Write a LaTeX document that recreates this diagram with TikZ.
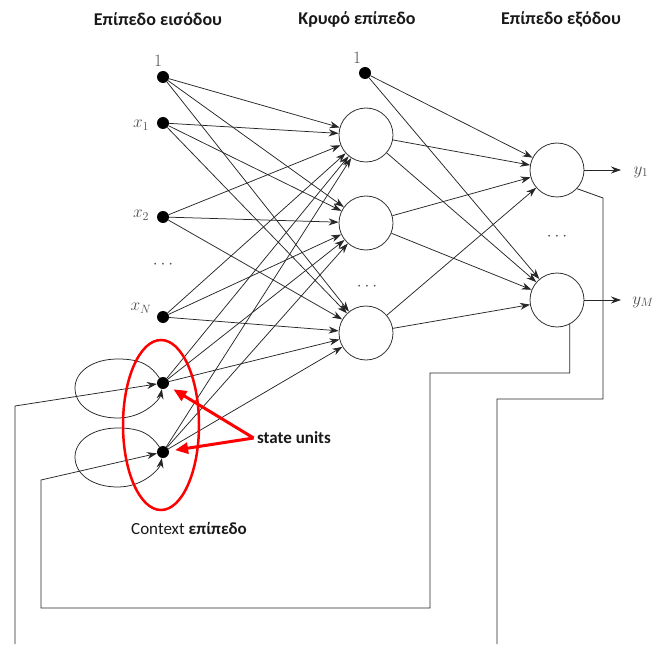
\documentclass[tikz,border=0pt]{standalone}
\usepackage{fontspec}
\setmainfont{Carlito}
\usetikzlibrary{arrows.meta}

\begin{document}
\begin{tikzpicture}[
  x=1pt, y=-1pt,
  unit/.style={circle, draw=black!80, fill=white, line width=0.8pt, minimum size=54pt, inner sep=0pt},
  dotnode/.style={circle, fill=black, minimum size=12pt, inner sep=0pt},
  conn/.style={draw=black!85, line width=0.75pt, -{Stealth[length=10pt,width=7pt]}},
  wire/.style={draw=black!85, line width=0.8pt},
  title/.style={font=\fontsize{18}{21}\selectfont\bfseries, text=black!90},
  lab/.style={font=\fontsize{17}{19}\selectfont, text=black!70},
  redmark/.style={draw=red, line width=2.5pt},
  redarrow/.style={draw=red, line width=3pt, -{Triangle[length=13pt,width=11pt]}, shorten >=6pt}
]
\useasboundingbox (0,0) rectangle (652,644);

% layer titles
\node[title] (t1) at (158,19) {Επίπεδο εισόδου};
\node[title] (t2) at (357,19) {Κρυφό επίπεδο};
\node[title] (t3) at (561,19) {Επίπεδο εξόδου};

% input layer
\node[dotnode] (b1) at (163,77) {};
\node[dotnode] (x1) at (163,123) {};
\node[dotnode] (x2) at (163,217) {};
\node[dotnode] (xN) at (163,317) {};
\node[dotnode] (c1) at (163,383) {};
\node[dotnode] (c2) at (163,452) {};
\node[lab] (lb1) at (158,61) {$1$};
\node[lab] (lx1) at (141,125) {$x_1$};
\node[lab] (lx2) at (141,215) {$x_2$};
\node[lab] (lxN) at (141,308) {$x_N$};
\node[lab] (dIn) at (163,265) {$\cdots$};

% hidden layer
\node[dotnode] (b2) at (365,73) {};
\node[lab] (lb2) at (357,58) {$1$};
\node[unit] (h1) at (366,135) {};
\node[unit] (h2) at (366,223) {};
\node[unit] (h3) at (366,333) {};
\node[lab] (dHid) at (367,287) {$\cdots$};

% output layer
\node[unit] (o1) at (557,170) {};
\node[unit] (o2) at (557,300) {};
\node[lab] (dOut) at (557,237) {$\cdots$};
\coordinate (y1e) at (621,170);
\coordinate (yMe) at (621,300);
\node[lab] (ly1) at (641,172) {$y_1$};
\node[lab] (lyM) at (643,302) {$y_M$};

% input -> hidden
\foreach \s in {b1,x1,x2,xN,c1,c2}
  \foreach \t in {h1,h2,h3}
    \draw[conn] (\s) -- (\t);

% hidden -> output
\foreach \s in {b2,h1,h2,h3}
  \foreach \t in {o1,o2}
    \draw[conn] (\s) -- (\t);

\draw[conn] (o1) -- (y1e);
\draw[conn] (o2) -- (yMe);

% feedback wires into the context units
\coordinate (p1) at (603,198);
\coordinate (p2) at (603,399);
\coordinate (p3) at (497,399);
\coordinate (p4) at (497,644);
\draw[wire] (o1.-43) -- (p1) -- (p2) -- (p3) -- (p4);

\coordinate (q1) at (15,644);
\coordinate (q2) at (15,406);
\draw[conn] (q1) -- (q2) -- (c1);

\coordinate (r1) at (430,373);
\coordinate (r2) at (430,608);
\coordinate (r3) at (41,608);
\coordinate (r4) at (41,480);
\draw[conn] (o2.-62) |- (r1) -- (r2) -- (r3) -- (r4) -- (c2);

% self loops of the context units
\foreach \c/\dy in {c1/0, c2/69} {
  \coordinate (top\c) at (118,359+\dy);
  \coordinate (lft\c) at (75,388+\dy);
  \coordinate (bot\c) at (118,418+\dy);
  \draw[conn] (\c) .. controls +(-12,-17) and +(24,0) .. (top\c)
                   .. controls +(-26,0) and +(0,-16) .. (lft\c)
                   .. controls +(0,17) and +(-26,0) .. (bot\c)
                   .. controls +(26,0) and +(-3,16) .. (\c);
}

% context layer marker
\draw[redmark] (161,425) ellipse [x radius=38pt, y radius=85pt];
\node[font=\fontsize{17}{20}\selectfont\bfseries, text=black!90] (su) at (294,438) {state units};
\draw[redarrow] (su.west) -- (c1);
\draw[redarrow] (su.west) -- (c2);
\node[font=\fontsize{17}{20}\selectfont, text=black!90] (ctx) at (189,528) {Context \textbf{επίπεδο}};
\end{tikzpicture}
\end{document}
